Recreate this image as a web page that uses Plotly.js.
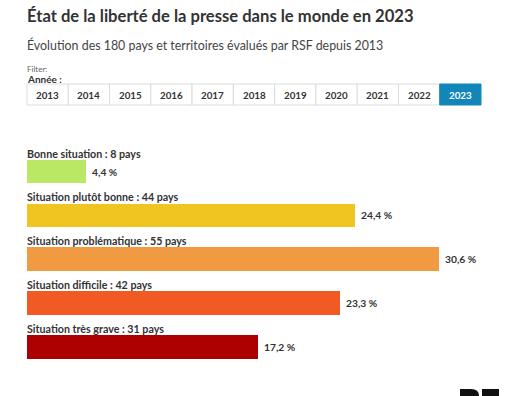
<!DOCTYPE html>
<html>
<head>
<meta charset="utf-8">
<script src="https://cdn.plot.ly/plotly-3.0.1.min.js"></script>
<style>html,body{margin:0;padding:0;background:#fff;}#chart{width:530px;height:396px;}</style>
</head>
<body>
<div id="chart"></div>
<script>
// Data
const categories = ["Bonne situation", "Situation plutôt bonne", "Situation problématique", "Situation difficile", "Situation très grave"];
const countries = [8, 44, 55, 42, 31];
const percents = [4.4, 24.4, 30.6, 23.3, 17.2];
const colors = ["#bbe864", "#f0c522", "#f09a42", "#f15a22", "#ad0000"];
const years = ["2013","2014","2015","2016","2017","2018","2019","2020","2021","2022","2023"];
const selectedYear = "2023";

const W = 530, H = 396;
const FONT = "Lato, 'Liberation Sans', sans-serif";
const TXT = "#333333";

const yIdx = categories.map((c, i) => i);

const trace = {
  type: "bar",
  orientation: "h",
  x: percents,
  y: yIdx,
  width: 0.54,
  marker: {color: colors, line: {width: 0}},
  hoverinfo: "skip",
  showlegend: false
};

const annotations = [];
annotations.push({
  xref: "paper", yref: "paper", x: 27 / W, y: 1 - 45 / H,
  xanchor: "left", yanchor: "middle", showarrow: false, borderpad: 0, xshift: -1,
  text: "Évolution des 180 pays et territoires évalués par RSF depuis 2013",
  font: {family: FONT, size: 12.4, color: "#444"}
});
annotations.push({
  xref: "paper", yref: "paper", x: 27 / W, y: 1 - 69 / H,
  xanchor: "left", yanchor: "middle", showarrow: false, borderpad: 0, xshift: -1,
  text: "Filter:", font: {family: FONT, size: 8, color: "#666"}
});
annotations.push({
  xref: "paper", yref: "paper", x: 27 / W, y: 1 - 79 / H,
  xanchor: "left", yanchor: "middle", showarrow: false, borderpad: 0, xshift: -1,
  text: "<b>Année :</b>", font: {family: FONT, size: 10, color: TXT}
});

const shapes = [];
const bx0 = 27, bx1 = 481, by0 = 84, by1 = 105;
const bw = (bx1 - bx0) / years.length;
years.forEach((yr, i) => {
  const sel = yr === selectedYear;
  shapes.push({
    type: "rect", xref: "paper", yref: "paper",
    x0: (bx0 + i * bw) / W, x1: (bx0 + (i + 1) * bw) / W,
    y0: 1 - by1 / H, y1: 1 - by0 / H,
    fillcolor: sel ? "#1286b8" : "#ffffff",
    line: {color: sel ? "#1286b8" : "#dcdcdc", width: 1}
  });
  annotations.push({
    xref: "paper", yref: "paper",
    x: (bx0 + (i + 0.5) * bw) / W, y: 1 - ((by0 + by1) / 2) / H,
    xanchor: "center", yanchor: "middle", showarrow: false,
    text: "<b>" + yr + "</b>",
    font: {family: FONT, size: 9.8, color: sel ? "#ffffff" : TXT}
  });
});

categories.forEach((c, i) => {
  annotations.push({
    xref: "x", yref: "y", x: 0, y: i,
    xanchor: "left", yanchor: "bottom", yshift: 11, xshift: -1, borderpad: 0, showarrow: false,
    text: "<b>" + c + " : " + countries[i] + " pays</b>",
    font: {family: FONT, size: 10.7, color: TXT}
  });
  annotations.push({
    xref: "x", yref: "y", x: percents[i], y: i,
    xanchor: "left", yanchor: "middle", xshift: 5, borderpad: 0, showarrow: false,
    text: "<b>" + percents[i].toFixed(1).replace(".", ",") + " %</b>",
    font: {family: FONT, size: 10.3, color: TXT}
  });
});

// logo (partially visible at bottom right)
shapes.push({
  type: "path", xref: "paper", yref: "paper",
  path: `M ${460/W} ${1-396/H} L ${460/W} ${1-389/H} L ${471/W} ${1-389/H} Q ${479/W} ${1-389/H} ${479/W} ${1-396/H} Z`,
  fillcolor: "#111", line: {width: 0}
});
shapes.push({
  type: "rect", xref: "paper", yref: "paper",
  x0: 482 / W, x1: 499 / W, y0: 0, y1: 1 - 389 / H,
  fillcolor: "#111", line: {width: 0}
});

const pxPerUnit = 13.45;
const domX0 = 27 / W;
const xMax = (W - 27) / pxPerUnit;

const spacing = 43.875;
const c0 = 171.5;
const yTop = 0 - c0 / spacing;
const yBot = 4 + (H - (c0 + 4 * spacing)) / spacing;

const layout = {
  width: W, height: H,
  margin: {l: 0, r: 0, t: 0, b: 0, pad: 0},
  paper_bgcolor: "#ffffff", plot_bgcolor: "#ffffff",
  title: {
    text: "<b>État de la liberté de la presse dans le monde en 2023</b>",
    xref: "paper", yref: "container",
    x: 27 / W, xanchor: "left", y: 1 - 16 / H, yanchor: "middle",
    font: {family: FONT, size: 16.6, color: TXT}
  },
  xaxis: {
    domain: [domX0, 1], range: [0, xMax],
    showgrid: false, zeroline: false, showline: false, showticklabels: false, ticks: "",
    fixedrange: true
  },
  yaxis: {
    domain: [0, 1], range: [yBot, yTop],
    showgrid: false, zeroline: false, showline: false, showticklabels: false, ticks: "",
    fixedrange: true
  },
  bargap: 0,
  annotations: annotations,
  shapes: shapes,
  font: {family: FONT}
};

Plotly.newPlot("chart", [trace], layout, {displayModeBar: false, staticPlot: true});
</script>
</body>
</html>
